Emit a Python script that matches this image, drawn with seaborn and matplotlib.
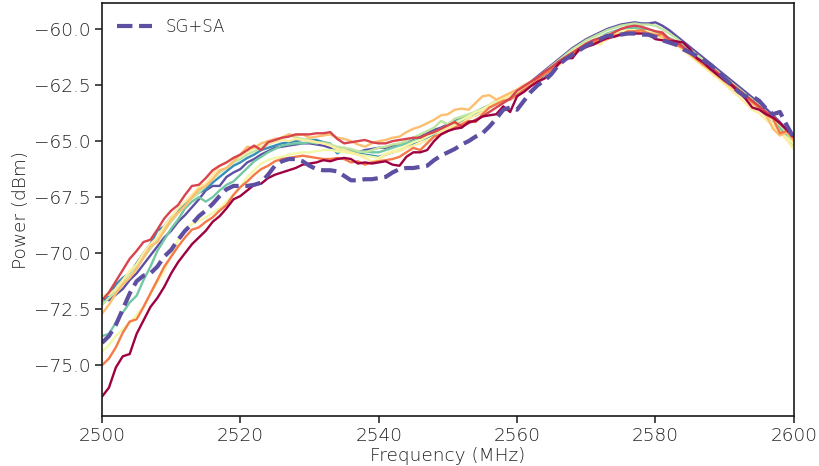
import numpy as np
import pandas as pd
import matplotlib
matplotlib.use("Agg")
import matplotlib.pyplot as plt
import seaborn as sns

freq = list(range(2500, 2601))

s_darkred = [-76.4, -76.0, -75.1, -74.6, -74.5, -73.6, -73.0, -72.4, -72.0, -71.5,
             -70.9, -70.4, -70.0, -69.6, -69.3, -69.0, -68.6, -68.35, -68.0, -67.6,
             -67.45, -67.2, -66.95, -66.9, -66.65, -66.5, -66.4, -66.3, -66.2, -66.05,
             -66.0, -65.95, -65.85, -65.9, -65.8, -65.75, -65.8, -66.0, -65.95, -66.0,
             -65.95, -65.9, -66.05, -66.1, -65.7, -65.5, -65.5, -65.4, -65.0, -64.7,
             -64.55, -64.45, -64.4, -64.15, -64.1, -63.9, -63.85, -63.8, -63.45, -63.7,
             -63.0, -62.8, -62.55, -62.35, -62.2, -61.95, -61.55, -61.3, -61.3, -60.9,
             -60.8, -60.7, -60.55, -60.4, -60.35, -60.25, -60.2, -60.2, -60.2, -60.25,
             -60.45, -60.5, -60.55, -60.55, -60.6, -60.9, -61.3, -61.5, -61.8, -62.05,
             -62.3, -62.5, -62.8, -63.1, -63.5, -63.6, -63.8, -63.95, -64.2, -64.5,
             -64.8]
s_red = [-72.1, -71.75, -71.25, -70.75, -70.25, -69.9, -69.5, -69.4, -68.95, -68.45,
         -68.1, -67.85, -67.4, -67.0, -66.95, -66.65, -66.3, -66.1, -65.95, -65.75,
         -65.6, -65.4, -65.2, -65.4, -65.05, -64.95, -64.85, -64.8, -64.7, -64.7,
         -64.7, -64.65, -64.65, -64.6, -64.9, -65.1, -65.05, -65.0, -64.95, -65.05,
         -65.1, -65.1, -65.0, -64.95, -64.9, -64.85, -64.85, -64.7, -64.6, -64.45,
         -64.3, -64.15, -64.35, -64.2, -64.05, -63.9, -63.7, -63.5, -63.3, -63.1,
         -62.75, -62.55, -62.35, -62.15, -61.9, -61.7, -61.45, -61.25, -61.05, -60.85,
         -60.65, -60.5, -60.4, -60.3, -60.15, -60.0, -59.9, -59.85, -59.9, -60.0,
         -60.1, -60.15, -60.45, -60.55, -60.8, -61.05, -61.3, -61.5, -61.7, -61.95,
         -62.2, -62.45, -62.7, -62.95, -63.2, -63.45, -63.7, -63.9, -64.2, -64.5,
         -64.75]
s_orange = [-75.0, -74.7, -74.2, -73.55, -73.05, -72.95, -72.4, -71.8, -71.2, -70.6,
            -70.15, -69.7, -69.3, -68.95, -68.85, -68.6, -68.4, -68.1, -67.85, -67.4,
            -67.05, -66.8, -66.5, -66.25, -66.1, -65.9, -65.8, -65.75, -65.7, -65.65,
            -65.7, -65.75, -65.8, -65.8, -65.75, -65.8, -65.95, -65.9, -66.05, -65.95,
            -65.9, -65.85, -65.8, -65.7, -65.5, -65.3, -65.4, -65.1, -64.8, -64.7,
            -64.55, -64.4, -64.25, -64.1, -64.15, -63.8, -63.5, -63.35, -63.2, -63.15,
            -62.95, -62.7, -62.5, -62.25, -62.0, -61.8, -61.55, -61.3, -61.2, -60.95,
            -60.8, -60.6, -60.5, -60.45, -60.3, -60.25, -60.1, -60.1, -60.05, -60.2,
            -60.3, -60.2, -60.6, -60.7, -60.85, -61.1, -61.35, -61.6, -61.8, -62.0,
            -62.3, -62.5, -62.75, -63.0, -63.25, -63.5, -63.8, -64.0, -64.65, -64.55,
            -64.9]
s_lightorange = [-72.7, -72.3, -71.8, -71.4, -71.1, -70.7, -70.2, -69.7, -69.5, -69.0,
                 -68.5, -68.2, -67.9, -67.5, -67.15, -67.0, -66.7, -66.3, -66.2, -65.9,
                 -65.6, -65.25, -65.3, -65.1, -65.0, -64.9, -64.85, -64.7, -64.75, -64.7,
                 -64.85, -64.8, -64.75, -64.7, -64.85, -64.9, -65.0, -65.15, -65.25, -65.1,
                 -65.0, -64.95, -64.85, -64.8, -64.6, -64.45, -64.35, -64.2, -64.05, -63.85,
                 -63.8, -63.6, -63.55, -63.6, -63.3, -63.0, -62.95, -63.15, -63.0, -62.85,
                 -62.7, -62.5, -62.35, -62.2, -62.0, -61.8, -61.6, -61.35, -61.1, -60.95,
                 -60.75, -60.6, -60.5, -60.45, -60.3, -60.2, -60.15, -60.2, -60.1, -60.2,
                 -60.2, -60.35, -60.5, -60.65, -60.85, -61.1, -61.35, -61.6, -61.85, -62.1,
                 -62.35, -62.6, -62.85, -63.05, -63.3, -63.55, -63.85, -64.45, -64.75, -64.6,
                 -65.0]
s_yellow = [-71.9, -71.85, -71.6, -71.2, -70.8, -70.5, -70.0, -69.6, -69.3, -68.8,
            -68.4, -68.0, -67.7, -67.4, -67.05, -66.9, -66.5, -66.1, -65.95, -65.75,
            -65.65, -65.5, -65.3, -65.25, -65.1, -65.05, -64.95, -65.0, -64.9, -64.95,
            -65.0, -65.05, -65.1, -65.2, -65.35, -65.4, -65.5, -65.6, -65.75, -65.9,
            -65.85, -65.6, -65.5, -65.45, -65.3, -65.2, -65.1, -64.95, -64.8, -64.6,
            -64.45, -64.3, -64.2, -64.0, -63.85, -63.7, -63.5, -63.35, -63.15, -63.0,
            -62.8, -62.6, -62.45, -62.2, -62.0, -61.75, -61.5, -61.3, -61.05, -60.85,
            -60.7, -60.55, -60.7, -60.4, -60.25, -60.2, -60.15, -60.1, -60.15, -60.2,
            -60.3, -60.4, -60.55, -60.7, -60.95, -61.2, -61.45, -61.7, -61.95, -62.2,
            -62.45, -62.75, -63.0, -63.3, -63.6, -63.75, -64.05, -64.3, -64.6, -64.95,
            -65.35]
s_lightyellow = [-74.4, -74.1, -73.7, -73.4, -73.1, -72.75, -72.4, -71.8, -71.3, -70.8,
                 -70.1, -69.4, -69.0, -68.7, -68.55, -68.4, -68.2, -68.0, -67.7, -67.4,
                 -67.05, -66.6, -66.3, -66.0, -65.85, -65.75, -65.7, -65.6, -65.55, -65.5,
                 -65.5, -65.45, -65.4, -65.4, -65.45, -65.5, -65.55, -65.6, -65.65, -65.7,
                 -65.75, -65.55, -65.45, -65.35, -65.2, -65.05, -64.95, -64.8, -64.65, -64.5,
                 -64.35, -64.2, -64.05, -63.9, -63.7, -63.6, -63.4, -63.2, -63.05, -62.9,
                 -62.75, -62.6, -62.4, -62.2, -61.95, -61.75, -61.5, -61.25, -61.0, -60.8,
                 -60.65, -60.5, -60.35, -60.25, -60.15, -60.1, -60.05, -60.05, -60.1, -60.1,
                 -60.2, -60.3, -60.45, -60.6, -60.8, -61.05, -61.3, -61.55, -61.8, -62.1,
                 -62.35, -62.6, -62.85, -63.1, -63.4, -63.55, -63.8, -64.1, -64.6, -64.85,
                 -65.1]
s_lightgreen = [-72.3, -72.0, -71.7, -71.3, -70.9, -70.6, -70.2, -69.8, -69.4, -69.0,
                -68.6, -68.2, -67.9, -67.55, -67.3, -67.0, -66.7, -66.4, -66.2, -65.95,
                -65.8, -65.6, -65.45, -65.3, -65.15, -65.0, -64.85, -64.7, -64.85, -64.9,
                -64.95, -65.05, -65.1, -65.15, -65.25, -65.3, -65.35, -65.45, -65.5, -65.4,
                -65.3, -65.25, -65.15, -65.1, -65.0, -64.85, -64.7, -64.55, -64.4, -64.1,
                -64.25, -64.0, -63.9, -63.8, -63.7, -63.55, -63.4, -63.25, -63.1, -62.95,
                -62.8, -62.6, -62.4, -62.15, -61.9, -61.65, -61.4, -61.15, -60.9, -60.7,
                -60.5, -60.35, -60.2, -60.05, -59.95, -59.85, -59.8, -59.75, -59.8, -59.8,
                -59.85, -60.0, -60.2, -60.4, -60.65, -60.9, -61.15, -61.4, -61.65, -61.9,
                -62.15, -62.4, -62.65, -62.9, -63.15, -63.4, -63.7, -64.0, -64.3, -64.65,
                -65.2]
s_teal = [-73.7, -73.6, -73.1, -72.65, -72.2, -71.9, -71.2, -70.6, -69.9, -69.4,
          -68.9, -68.5, -68.0, -67.7, -67.5, -67.7, -67.5, -67.2, -66.95, -66.8,
          -66.5, -66.2, -65.9, -65.7, -65.5, -65.35, -65.2, -65.15, -65.1, -65.1,
          -65.05, -65.1, -65.05, -65.1, -65.5, -65.3, -65.4, -65.5, -65.45, -65.5,
          -65.5, -65.4, -65.3, -65.2, -65.1, -65.0, -64.9, -64.75, -64.6, -64.45,
          -64.3, -64.15, -64.0, -63.85, -63.75, -63.6, -63.45, -63.3, -63.1, -62.95,
          -62.85, -62.65, -62.45, -62.25, -62.0, -61.75, -61.5, -61.25, -61.05, -60.85,
          -60.65, -60.5, -60.35, -60.2, -60.1, -60.0, -59.95, -59.95, -60.0, -60.05,
          -60.15, -60.25, -60.4, -60.55, -60.75, -61.0, -61.25, -61.5, -61.75, -62.0,
          -62.25, -62.5, -62.75, -63.0, -63.25, -63.55, -63.85, -64.1, -64.45, -64.8,
          -65.15]
s_blue = [-72.3, -71.9, -71.4, -71.1, -70.9, -70.45, -70.0, -69.6, -69.0, -68.8,
          -68.4, -68.1, -67.8, -67.5, -67.3, -67.15, -66.85, -66.6, -66.35, -66.1,
          -65.95, -65.75, -65.6, -65.4, -65.3, -65.2, -65.1, -65.05, -65.0, -64.95,
          -64.95, -64.95, -65.05, -65.15, -65.55, -65.35, -65.45, -65.5, -65.6, -65.65,
          -65.7, -65.6, -65.5, -65.4, -65.25, -65.1, -64.95, -64.85, -64.7, -64.55,
          -64.4, -64.25, -64.1, -63.95, -63.85, -63.7, -63.5, -63.35, -63.15, -63.05,
          -62.9, -62.7, -62.5, -62.3, -62.05, -61.8, -61.55, -61.3, -61.1, -60.9,
          -60.7, -60.55, -60.4, -60.3, -60.2, -60.1, -60.05, -60.05, -60.1, -60.3,
          -60.35, -60.3, -60.5, -60.65, -60.85, -61.05, -61.3, -61.55, -61.8, -62.05,
          -62.3, -62.55, -62.8, -63.05, -63.3, -63.55, -63.8, -64.1, -64.4, -64.75,
          -65.05]
s_purple = [-72.0, -72.1, -71.85, -71.6, -71.2, -70.9, -70.5, -70.1, -69.7, -69.3,
            -69.0, -68.6, -68.3, -67.95, -67.6, -67.2, -67.0, -67.0, -66.6, -66.4,
            -66.25, -65.95, -65.8, -65.6, -65.45, -65.3, -65.25, -65.2, -65.15, -65.1,
            -65.1, -65.15, -65.2, -65.3, -65.35, -65.4, -65.45, -65.5, -65.4, -65.35,
            -65.3, -65.3, -65.2, -65.15, -65.05, -64.9, -64.8, -64.65, -64.5, -64.4,
            -64.25, -64.1, -64.0, -63.85, -63.7, -63.55, -63.4, -63.2, -63.05, -62.9,
            -62.75, -62.55, -62.35, -62.1, -61.85, -61.6, -61.35, -61.1, -60.85, -60.65,
            -60.45, -60.3, -60.15, -60.0, -59.9, -59.8, -59.75, -59.7, -59.75, -59.75,
            -59.7, -59.85, -60.05, -60.3, -60.55, -60.8, -61.05, -61.3, -61.55, -61.8,
            -62.05, -62.3, -62.55, -62.8, -63.05, -63.3, -63.55, -63.85, -64.15, -64.5,
            -64.85]
s_sgsa = [-74.0, -73.7, -73.2, -72.5, -71.8, -71.25, -71.0, -70.9, -70.6, -70.15,
          -69.85, -69.4, -69.0, -68.7, -68.35, -68.1, -67.8, -67.45, -67.15, -67.0,
          -67.0, -67.0, -66.95, -66.85, -66.5, -66.1, -65.9, -65.8, -65.8, -65.9,
          -66.1, -66.25, -66.3, -66.3, -66.35, -66.55, -66.75, -66.75, -66.7, -66.7,
          -66.65, -66.6, -66.4, -66.25, -66.2, -66.2, -66.15, -66.1, -65.85, -65.65,
          -65.5, -65.35, -65.15, -65.0, -64.8, -64.65, -64.35, -64.0, -63.6, -63.5,
          -63.6, -63.2, -62.8, -62.5, -62.3, -62.0, -61.6, -61.35, -61.15, -60.95,
          -60.75, -60.6, -60.45, -60.3, -60.3, -60.25, -60.2, -60.2, -60.25, -60.25,
          -60.35, -60.5, -60.6, -60.7, -60.9, -61.05, -61.2, -61.4, -61.6, -61.9,
          -62.2, -62.5, -62.8, -63.0, -63.0, -63.2, -63.55, -63.8, -63.7, -64.3,
          -64.85]

solid_series = [s_darkred, s_red, s_orange, s_lightorange, s_yellow,
                s_lightyellow, s_lightgreen, s_teal, s_blue, s_purple]
sgsa_label = "SG+SA"

sns.set_theme(style="ticks")
plt.rcParams["font.family"] = ["DejaVu Sans"]
plt.rcParams["font.weight"] = "light"
plt.rcParams["axes.labelweight"] = "light"
TXT = "#222222"
FS = 13.3

fig = plt.figure(figsize=(8.2, 4.66), dpi=100)
ax = fig.add_axes([0.1244, 0.107, 0.8436, 0.886])

cmap = sns.color_palette("Spectral", as_cmap=True)
colors = [cmap(v) for v in np.linspace(0, 1, len(solid_series))]

for i in range(len(solid_series) - 1, -1, -1):
    df = pd.DataFrame({"Frequency": freq, "Power": solid_series[i]})
    sns.lineplot(data=df, x="Frequency", y="Power", color=colors[i],
                 linewidth=1.7, ax=ax, legend=False)

df_sg = pd.DataFrame({"Frequency": freq, "Power": s_sgsa})
sns.lineplot(data=df_sg, x="Frequency", y="Power", color="#5e4fa2",
             linewidth=3.0, linestyle="--", ax=ax, label=sgsa_label)

ax.set_xlim(2500, 2600)
ax.set_ylim(-77.27, -58.85)
ax.set_yticks([-75.0, -72.5, -70.0, -67.5, -65.0, -62.5, -60.0])
ax.set_yticklabels(["\u221275.0", "\u221272.5", "\u221270.0", "\u221267.5",
                    "\u221265.0", "\u221262.5", "\u221260.0"])
ax.set_xticks([2500, 2520, 2540, 2560, 2580, 2600])

ax.set_xlabel("Frequency (MHz)", fontsize=FS, fontweight="light", color=TXT, labelpad=1)
ax.set_ylabel("Power (dBm)", fontsize=FS, fontweight="light", color=TXT, labelpad=3)
ax.tick_params(axis="both", labelsize=FS, length=5, width=1.1, direction="out",
               colors="#1a1a1a", labelcolor=TXT, pad=3)
for lab in ax.get_xticklabels() + ax.get_yticklabels():
    lab.set_fontweight("light")

for sp in ax.spines.values():
    sp.set_visible(True)
    sp.set_color("#1a1a1a")
    sp.set_linewidth(1.2)

leg = ax.legend(loc="upper left", frameon=False, fontsize=12,
                handlelength=2.1, handletextpad=0.8, borderaxespad=0.5)
for t in leg.get_texts():
    t.set_fontweight("light")
    t.set_color(TXT)

fig.savefig("out.png", dpi=100)
